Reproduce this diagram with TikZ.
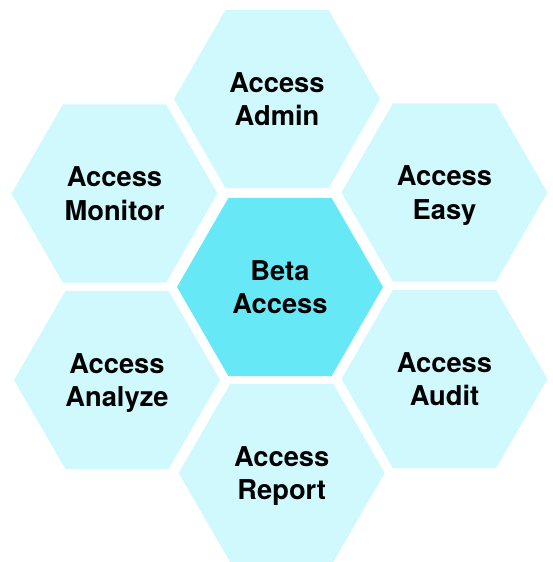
\documentclass[tikz,border=0pt]{standalone}
\usepackage{fontspec}
\setmainfont{TeX Gyre Heros}
\definecolor{hexlight}{HTML}{CFF9FD}
\definecolor{hexmain}{HTML}{67E8F7}
\tikzset{
  hexa/.pic={\fill[#1] (0:103) -- (60:103) -- (120:103) -- (180:103) -- (240:103) -- (300:103) -- cycle;},
  lbl/.style={align=center, inner sep=0pt, font=\bfseries\fontsize{27.3}{33.3}\selectfont, text=black}
}
\newcommand{\hexlbl}[2]{\vphantom{A}#1\\#2\vphantom{p}}
\begin{document}
\begin{tikzpicture}[x=1pt,y=-1pt]
\useasboundingbox[fill=white] (0,0) rectangle (552,562);
\coordinate (c0) at (280,287);
\coordinate (c1) at (277,99);
\coordinate (c2) at (114.5,193.5);
\coordinate (c3) at (444.5,192.5);
\coordinate (c4) at (117,380);
\coordinate (c5) at (444.5,379);
\coordinate (c6) at (281.7,473);
\pic at (c0) {hexa=hexmain};
\foreach \i in {1,...,6} {\pic at (c\i) {hexa=hexlight};}
\node[lbl] (t0) at ([yshift=-2.9pt]c0) {\hexlbl{Beta}{Access}};
\node[lbl] (t1) at ([yshift=-2.9pt]c1) {\hexlbl{Access}{Admin}};
\node[lbl] (t2) at ([yshift=-2.9pt]c2) {\hexlbl{Access}{Monitor}};
\node[lbl] (t3) at ([yshift=-2.9pt]c3) {\hexlbl{Access}{Easy}};
\node[lbl] (t4) at ([yshift=-2.9pt]c4) {\hexlbl{Access}{Analyze}};
\node[lbl] (t5) at ([yshift=-2.9pt]c5) {\hexlbl{Access}{Audit}};
\node[lbl] (t6) at ([yshift=-2.9pt]c6) {\hexlbl{Access}{Report}};
\end{tikzpicture}
\end{document}
